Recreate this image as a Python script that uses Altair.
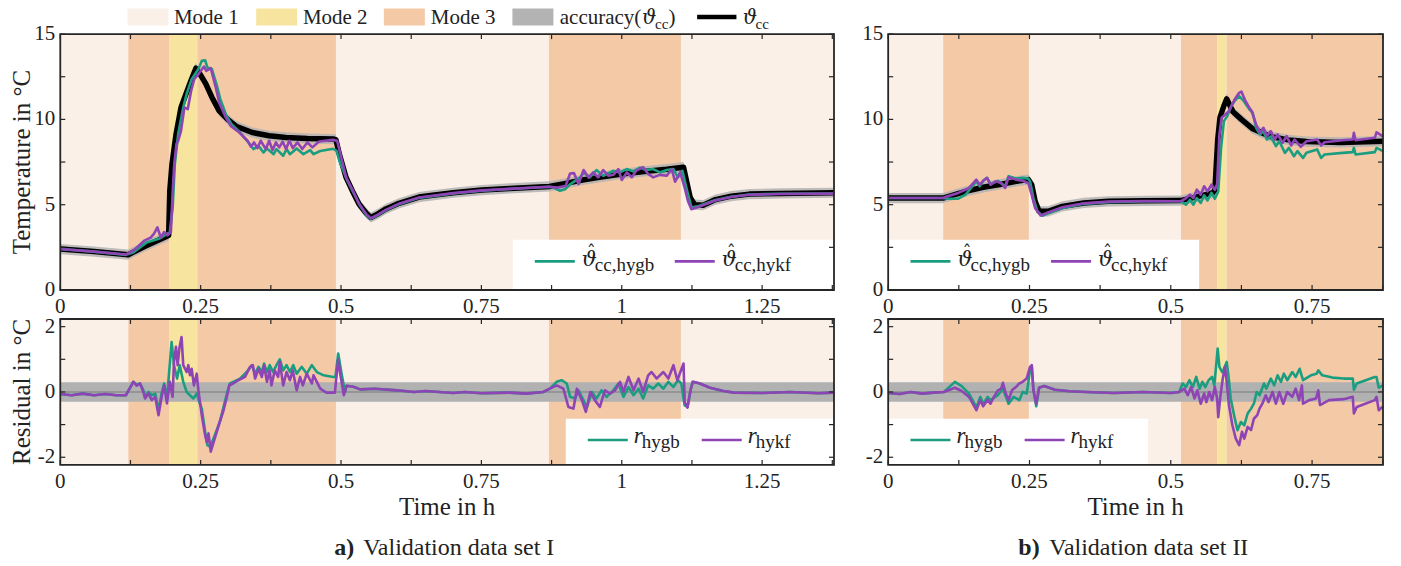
import altair as alt
import pandas as pd

# ---------------- style ----------------
FONT = "Liberation Serif"
MATH = "DejaVu Serif"
INK = "#222222"
FRAME = "#262626"
TEAL = "#1b9e80"
PURPLE = "#8e44b5"
MODE_NAMES = ["Mode 1", "Mode 2", "Mode 3"]
MODE_COLORS = ["#fbf0e8", "#f7e49e", "#f4c9a6"]
ACC_COLOR = "#b3b3b3"
BAND_COLOR = "#b1b1b1"
ZERO_COLOR = "#8c8c8c"

# ---------------- data ----------------
ACCURACY = 0.3

A_MODE_EDGES = [0, 0.1211, 0.1936, 0.244, 0.491, 0.8703, 1.1054, 1.378]
A_MODES = ["Mode 1", "Mode 3", "Mode 2", "Mode 3", "Mode 1", "Mode 3", "Mode 1"]
B_MODE_EDGES = [0, 0.0973, 0.249, 0.518, 0.582, 0.5986, 0.8755]
B_MODES = ["Mode 1", "Mode 3", "Mode 1", "Mode 3", "Mode 2", "Mode 3"]

A_XTICKS = [0, 0.125, 0.25, 0.375, 0.5, 0.625, 0.75, 0.875, 1, 1.125, 1.25, 1.375]
B_XTICKS = [0, 0.125, 0.25, 0.375, 0.5, 0.625, 0.75, 0.875]
A_XLABELS = [0, 0.25, 0.5, 0.75, 1, 1.25]
B_XLABELS = [0, 0.25, 0.5, 0.75]
TOP_YTICKS = [0, 2.5, 5, 7.5, 10, 12.5, 15]
TOP_YLABELS = [0, 5, 10, 15]
BOT_YTICKS = [-2, -1, 0, 1, 2]
BOT_YLABELS = [-2, 0, 2]

# validation data set I : measured temperature (time in h, degC)
A_REF = [(0, 2.4), (0.06, 2.25), (0.121, 2.07), (0.15, 2.55), (0.19, 3.15), (0.193, 3.2),
         (0.195, 5.8), (0.199, 7.4), (0.206, 9.1), (0.215, 10.7), (0.224, 11.5), (0.233, 12.3),
         (0.2415, 13.0), (0.25, 12.6), (0.259, 12.1), (0.27, 11.3), (0.283, 10.5), (0.298, 10.0),
         (0.313, 9.6), (0.342, 9.23), (0.372, 9.04), (0.402, 8.94), (0.44, 8.88), (0.487, 8.85),
         (0.491, 8.8), (0.497, 7.97), (0.509, 6.6), (0.52, 5.82), (0.532, 5.04), (0.545, 4.5),
         (0.553, 4.25), (0.565, 4.45), (0.58, 4.75), (0.603, 5.08), (0.639, 5.45), (0.663, 5.55),
         (0.70, 5.7), (0.751, 5.86), (0.80, 5.95), (0.871, 6.07), (0.90, 6.25), (0.93, 6.45),
         (0.96, 6.6), (1.00, 6.8), (1.04, 6.95), (1.08, 7.08), (1.11, 7.2), (1.116, 6.3),
         (1.122, 5.4), (1.13, 5.0), (1.145, 4.97), (1.167, 5.3), (1.195, 5.5), (1.227, 5.62),
         (1.28, 5.66), (1.378, 5.7)]
A_HYKF = [(0, 2.4), (0.06, 2.25), (0.117, 2.08), (0.13, 2.3), (0.1495, 2.89), (0.161, 3.07),
          (0.167, 3.3), (0.173, 3.67), (0.179, 3.07), (0.185, 3.4), (0.191, 3.2), (0.197, 3.4),
          (0.200, 5.62), (0.203, 7.38), (0.207, 8.56), (0.210, 8.75), (0.215, 9.33), (0.221, 10.7),
          (0.227, 10.6), (0.233, 11.67), (0.2386, 12.36), (0.247, 12.7), (0.256, 13.1), (0.260, 12.85),
          (0.268, 13.0), (0.277, 11.87), (0.283, 10.99), (0.295, 10.1), (0.304, 9.6), (0.319, 9.23),
          (0.3335, 8.75), (0.3395, 8.4), (0.345, 8.65), (0.351, 8.32), (0.357, 8.75), (0.366, 8.26),
          (0.372, 8.75), (0.378, 8.2), (0.384, 8.65), (0.39, 8.36), (0.396, 8.7), (0.402, 8.26),
          (0.408, 8.75), (0.414, 8.32), (0.4225, 8.65), (0.431, 8.26), (0.44, 8.65), (0.449, 8.36),
          (0.461, 8.7), (0.485, 8.8), (0.493, 8.75), (0.4997, 7.87), (0.509, 6.6), (0.52, 5.9),
          (0.532, 5.04), (0.545, 4.45), (0.553, 4.2), (0.565, 4.4), (0.58, 4.7), (0.603, 5.05),
          (0.639, 5.42), (0.663, 5.52), (0.70, 5.68), (0.751, 5.84), (0.80, 5.93), (0.871, 6.05),
          (0.885, 6.0), (0.9, 6.1), (0.908, 6.83), (0.915, 6.85), (0.923, 6.21), (0.932, 7.03),
          (0.941, 6.6), (0.949, 6.89), (0.958, 6.6), (0.967, 7.03), (0.976, 6.7), (0.985, 6.75),
          (0.994, 7.08), (1.0, 6.45), (1.009, 6.89), (1.018, 6.6), (1.026, 7.0), (1.038, 7.2),
          (1.047, 6.8), (1.056, 6.6), (1.068, 6.75), (1.08, 6.7), (1.089, 7.08), (1.095, 6.35),
          (1.104, 6.89), (1.112, 6.0), (1.118, 5.2), (1.124, 4.74), (1.135, 4.85), (1.167, 5.25),
          (1.195, 5.45), (1.227, 5.58), (1.28, 5.63), (1.378, 5.65)]
A_HYGB = [(0, 2.4), (0.06, 2.25), (0.117, 2.06), (0.13, 2.2), (0.154, 2.79), (0.178, 3.04),
          (0.1894, 3.28), (0.195, 3.37), (0.2002, 4.84), (0.204, 7.38), (0.21, 9.14), (0.219, 10.7),
          (0.225, 11.48), (0.234, 12.36), (0.246, 12.95), (0.252, 13.43), (0.258, 13.47), (0.262, 13.04),
          (0.27, 12.95), (0.279, 11.97), (0.285, 11.19), (0.296, 10.2), (0.305, 9.72), (0.32, 9.23),
          (0.335, 8.65), (0.344, 8.26), (0.353, 8.45), (0.362, 8.06), (0.368, 8.3), (0.38, 7.96),
          (0.385, 8.26), (0.397, 7.87), (0.403, 8.26), (0.409, 7.96), (0.421, 8.3), (0.433, 7.96),
          (0.445, 8.2), (0.451, 7.96), (0.463, 8.15), (0.486, 8.28), (0.492, 8.15), (0.498, 7.48),
          (0.51, 6.5), (0.522, 5.72), (0.534, 4.95), (0.545, 4.4), (0.553, 4.18), (0.565, 4.38),
          (0.58, 4.68), (0.603, 5.03), (0.639, 5.4), (0.663, 5.5), (0.70, 5.66), (0.751, 5.82),
          (0.80, 5.92), (0.871, 6.05), (0.878, 6.01), (0.89, 5.82), (0.899, 5.9), (0.908, 6.2),
          (0.917, 6.4), (0.926, 6.6), (0.932, 6.89), (0.943, 6.6), (0.955, 7.03), (0.967, 6.69),
          (0.985, 6.99), (0.997, 6.89), (1.009, 7.09), (1.021, 6.95), (1.032, 7.18), (1.044, 7.03),
          (1.056, 7.09), (1.068, 6.89), (1.08, 7.03), (1.092, 7.09), (1.1, 6.6), (1.108, 6.99),
          (1.115, 6.01), (1.124, 4.84), (1.135, 4.9), (1.167, 5.27), (1.195, 5.47), (1.227, 5.6),
          (1.28, 5.64), (1.378, 5.66)]
A_R_HYKF = [(0, -0.06), (0.02, -0.1), (0.04, -0.05), (0.06, -0.1), (0.08, -0.06), (0.1, -0.1),
            (0.117, -0.1), (0.13, 0.31), (0.136, 0.19), (0.142, 0.26), (0.148, 0.0), (0.151, -0.2),
            (0.157, -0.05), (0.163, -0.25), (0.169, -0.15), (0.175, -0.71), (0.181, -0.1), (0.185, 0.2),
            (0.19, -0.35), (0.195, 0.31), (0.2, -0.15), (0.2025, 0.92), (0.206, 1.38), (0.209, 0.82),
            (0.212, 1.33), (0.216, 1.68), (0.219, 0.82), (0.225, 0.61), (0.228, 0.82), (0.231, 0.51),
            (0.234, 0.71), (0.238, 0.2), (0.243, 0.56), (0.246, 0.05), (0.252, -0.71), (0.258, -1.33),
            (0.261, -1.53), (0.264, -1.27), (0.268, -1.83), (0.275, -1.43), (0.284, -0.92), (0.29, -0.61),
            (0.296, -0.2), (0.301, 0.2), (0.308, 0.26), (0.317, 0.36), (0.329, 0.46), (0.338, 0.77),
            (0.343, 0.82), (0.347, 0.41), (0.353, 0.71), (0.359, 0.46), (0.363, 0.82), (0.368, 0.31),
            (0.373, 0.66), (0.376, 0.2), (0.382, 0.66), (0.388, 0.46), (0.391, 0.92), (0.397, 0.2),
            (0.403, 0.61), (0.409, 0.36), (0.414, 0.66), (0.421, 0.05), (0.427, 0.46), (0.432, 0.2),
            (0.439, 0.56), (0.448, 0.26), (0.451, 0.51), (0.463, 0.1), (0.474, -0.02), (0.489, -0.02),
            (0.495, 1.0), (0.499, 0.5), (0.505, -0.1), (0.51, 0.19), (0.522, 0.16), (0.534, 0.08),
            (0.56, 0.1), (0.6, 0.05), (0.63, 0.0), (0.65, 0.03), (0.7, -0.03), (0.72, 0.0),
            (0.75, -0.04), (0.8, -0.02), (0.83, -0.05), (0.86, 0.0), (0.872, 0.1), (0.884, 0.2),
            (0.896, 0.1), (0.905, -0.46), (0.914, -0.51), (0.92, 0.1), (0.929, -0.25), (0.936, -0.61),
            (0.944, 0.0), (0.952, -0.25), (0.961, -0.46), (0.97, 0.05), (0.979, -0.05), (0.988, 0.05),
            (0.997, 0.31), (1.003, 0.0), (1.012, 0.46), (1.021, 0.05), (1.03, 0.41), (1.038, 0.0),
            (1.047, 0.51), (1.053, 0.61), (1.062, 0.41), (1.074, 0.61), (1.083, 0.41), (1.092, 0.82),
            (1.099, 0.36), (1.11, 0.87), (1.112, -0.3), (1.117, -0.48), (1.123, 0.1), (1.127, 0.31),
            (1.139, 0.26), (1.157, 0.13), (1.181, 0.03), (1.2, -0.02), (1.25, -0.03), (1.3, 0.0),
            (1.35, -0.04), (1.378, -0.02)]
A_R_HYGB = [(0, -0.06), (0.02, -0.1), (0.04, -0.05), (0.06, -0.1), (0.08, -0.06), (0.1, -0.1),
            (0.117, -0.1), (0.13, 0.31), (0.136, 0.22), (0.142, 0.26), (0.148, 0.05), (0.151, -0.15),
            (0.157, 0.0), (0.163, -0.1), (0.169, -0.05), (0.175, -0.55), (0.181, 0.0), (0.185, 0.26),
            (0.19, -0.2), (0.1983, 1.53), (0.2025, 0.82), (0.208, 0.41), (0.2127, 0.82), (0.219, 0.31),
            (0.225, 0.0), (0.231, -0.1), (0.237, -0.2), (0.243, -0.05), (0.248, -0.33), (0.252, -0.51),
            (0.258, -1.22), (0.262, -1.63), (0.267, -1.68), (0.275, -1.33), (0.284, -0.92), (0.296, -0.1),
            (0.302, 0.26), (0.308, 0.31), (0.32, 0.41), (0.332, 0.61), (0.341, 0.82), (0.347, 0.56),
            (0.353, 0.77), (0.359, 0.61), (0.363, 0.87), (0.368, 0.61), (0.373, 0.82), (0.379, 0.61),
            (0.385, 0.82), (0.391, 1.0), (0.397, 0.66), (0.403, 0.82), (0.409, 0.61), (0.415, 0.82),
            (0.421, 0.56), (0.43, 0.77), (0.439, 0.56), (0.448, 0.82), (0.457, 0.61), (0.469, 0.51),
            (0.486, 0.46), (0.49, 0.46), (0.495, 1.18), (0.501, 0.56), (0.507, 0.0), (0.51, 0.19),
            (0.522, 0.16), (0.534, 0.08), (0.56, 0.1), (0.6, 0.05), (0.63, 0.0), (0.65, 0.03),
            (0.7, -0.03), (0.72, 0.0), (0.75, -0.04), (0.8, -0.02), (0.83, -0.05), (0.86, 0.0),
            (0.872, 0.1), (0.884, 0.31), (0.893, 0.36), (0.902, 0.26), (0.908, -0.15), (0.917, -0.2),
            (0.923, 0.05), (0.932, -0.26), (0.938, -0.46), (0.947, 0.0), (0.955, -0.2), (0.964, 0.05),
            (0.973, -0.15), (0.985, 0.05), (0.994, 0.26), (1.003, -0.15), (1.012, 0.15), (1.021, -0.1),
            (1.03, 0.1), (1.038, -0.2), (1.047, 0.2), (1.056, 0.1), (1.065, 0.26), (1.074, 0.1),
            (1.083, 0.31), (1.092, 0.15), (1.1, 0.36), (1.106, 0.26), (1.112, -0.41), (1.117, -0.46),
            (1.122, 0.0), (1.126, 0.31), (1.139, 0.26), (1.157, 0.13), (1.181, 0.03), (1.2, -0.02),
            (1.25, -0.03), (1.3, 0.0), (1.35, -0.04), (1.378, -0.02)]

# validation data set II
B_REF = [(0, 5.39), (0.097, 5.39), (0.137, 5.78), (0.168, 6.02), (0.2, 6.2), (0.232, 6.4),
         (0.248, 6.47), (0.254, 6.17), (0.26, 5.2), (0.267, 4.61), (0.283, 4.61), (0.308, 4.9),
         (0.346, 5.1), (0.39, 5.2), (0.454, 5.23), (0.517, 5.24), (0.549, 5.49), (0.574, 5.69),
         (0.578, 5.85), (0.583, 8.8), (0.587, 10.1), (0.594, 10.8), (0.599, 11.2), (0.61, 10.45),
         (0.625, 10.0), (0.645, 9.45), (0.676, 9.0), (0.708, 8.8), (0.74, 8.7), (0.8, 8.65),
         (0.8755, 8.72)]
B_HYKF = [(0, 5.39), (0.097, 5.39), (0.105, 5.49), (0.124, 5.69), (0.143, 5.98), (0.156, 6.47),
          (0.162, 6.17), (0.168, 6.4), (0.175, 6.57), (0.181, 6.17), (0.19, 6.37), (0.2, 6.27),
          (0.207, 5.98), (0.213, 6.61), (0.226, 6.47), (0.238, 6.4), (0.248, 6.26), (0.254, 5.57),
          (0.26, 4.8), (0.27, 4.37), (0.283, 4.55), (0.308, 4.85), (0.346, 5.08), (0.39, 5.18),
          (0.454, 5.22), (0.5175, 5.2), (0.527, 5.39), (0.534, 5.59), (0.54, 5.39), (0.546, 5.88),
          (0.553, 5.59), (0.559, 6.08), (0.565, 5.78), (0.572, 6.17), (0.578, 5.88), (0.582, 6.2),
          (0.586, 9.1), (0.59, 10.1), (0.597, 10.3), (0.603, 10.49), (0.613, 11.17), (0.621, 11.56),
          (0.625, 11.63), (0.632, 11.08), (0.639, 10.69), (0.643, 10.49), (0.651, 9.7), (0.658, 9.22),
          (0.664, 9.51), (0.67, 9.02), (0.677, 9.31), (0.684, 8.82), (0.689, 9.12), (0.698, 8.63),
          (0.705, 9.02), (0.713, 8.47), (0.719, 8.82), (0.73, 8.39), (0.74, 8.72), (0.759, 8.82),
          (0.766, 8.47), (0.772, 8.66), (0.804, 8.78), (0.822, 8.82), (0.824, 9.22), (0.827, 8.78),
          (0.861, 8.92), (0.864, 9.24), (0.8755, 9.0)]
B_HYGB = [(0, 5.39), (0.097, 5.39), (0.105, 5.35), (0.124, 5.35), (0.137, 5.59), (0.149, 6.08),
          (0.156, 6.37), (0.162, 6.08), (0.168, 6.4), (0.175, 6.57), (0.181, 6.2), (0.194, 6.4),
          (0.207, 6.08), (0.213, 6.67), (0.226, 6.53), (0.238, 6.57), (0.248, 6.53), (0.251, 6.37),
          (0.257, 5.39), (0.264, 4.6), (0.273, 4.35), (0.283, 4.5), (0.308, 4.8), (0.346, 5.05),
          (0.39, 5.15), (0.454, 5.2), (0.5175, 5.2), (0.527, 5.0), (0.534, 5.29), (0.54, 5.0),
          (0.546, 5.39), (0.553, 5.1), (0.559, 5.55), (0.565, 5.25), (0.572, 5.69), (0.578, 5.35),
          (0.584, 5.78), (0.589, 8.33), (0.594, 9.9), (0.6, 10.2), (0.607, 10.78), (0.613, 11.08),
          (0.621, 11.37), (0.629, 11.08), (0.639, 10.59), (0.645, 10.39), (0.651, 9.51), (0.658, 9.12),
          (0.664, 9.31), (0.67, 8.82), (0.677, 9.0), (0.686, 8.43), (0.692, 8.72), (0.702, 8.04),
          (0.709, 8.33), (0.718, 7.84), (0.724, 8.14), (0.734, 7.74), (0.74, 8.04), (0.759, 8.24),
          (0.766, 7.74), (0.772, 7.94), (0.804, 8.04), (0.822, 8.08), (0.824, 8.33), (0.827, 7.94),
          (0.861, 8.08), (0.864, 8.33), (0.8755, 8.14)]
B_R_HYKF = [(0, -0.03), (0.02, -0.06), (0.04, 0.0), (0.06, -0.05), (0.08, -0.02), (0.0985, 0.0),
            (0.118, 0.13), (0.13, 0.03), (0.143, -0.15), (0.156, -0.56), (0.163, -0.25), (0.168, -0.44),
            (0.176, -0.24), (0.181, -0.36), (0.187, -0.15), (0.194, 0.05), (0.2, 0.1), (0.203, 0.28),
            (0.208, -0.05), (0.213, -0.25), (0.219, 0.05), (0.226, 0.15), (0.232, 0.26), (0.238, 0.31),
            (0.245, 0.41), (0.251, 0.77), (0.254, 0.82), (0.257, 0.05), (0.262, -0.36), (0.267, 0.13),
            (0.276, 0.18), (0.295, 0.07), (0.321, 0.02), (0.35, 0.0), (0.4, -0.03), (0.45, 0.0),
            (0.5, -0.03), (0.515, 0.0), (0.524, 0.1), (0.53, -0.1), (0.536, 0.15), (0.542, -0.2),
            (0.547, 0.05), (0.553, -0.36), (0.559, -0.05), (0.563, -0.31), (0.568, 0.0), (0.573, -0.25),
            (0.578, 0.15), (0.582, -0.2), (0.584, -0.77), (0.588, -0.1), (0.592, 0.41), (0.596, 0.77),
            (0.599, 0.31), (0.603, -0.41), (0.609, -1.02), (0.615, -1.43), (0.621, -1.63), (0.626, -1.22),
            (0.63, -1.43), (0.636, -1.07), (0.642, -1.17), (0.647, -0.82), (0.653, -0.71), (0.657, -0.51),
            (0.662, -0.36), (0.668, -0.1), (0.673, -0.31), (0.68, 0.0), (0.686, -0.36), (0.692, 0.0),
            (0.699, -0.36), (0.706, 0.0), (0.715, -0.15), (0.721, 0.1), (0.727, -0.25), (0.732, 0.2),
            (0.734, -0.36), (0.745, -0.25), (0.757, -0.2), (0.761, 0.05), (0.764, -0.4), (0.78, -0.25),
            (0.806, -0.22), (0.822, -0.15), (0.824, -0.66), (0.829, -0.46), (0.861, -0.25), (0.864, -0.15),
            (0.868, -0.56), (0.8755, -0.44)]
B_R_HYGB = [(0, -0.03), (0.02, -0.06), (0.04, 0.0), (0.06, -0.05), (0.08, -0.02), (0.0985, 0.0),
            (0.118, 0.31), (0.13, 0.18), (0.143, -0.05), (0.156, -0.46), (0.163, -0.15), (0.168, -0.36),
            (0.176, -0.15), (0.181, -0.25), (0.194, -0.1), (0.203, 0.1), (0.213, -0.36), (0.222, -0.15),
            (0.232, -0.25), (0.238, 0.0), (0.245, -0.05), (0.251, 0.66), (0.254, 0.8), (0.257, 0.05),
            (0.262, -0.44), (0.267, 0.13), (0.276, 0.18), (0.295, 0.07), (0.321, 0.02), (0.35, 0.0),
            (0.4, -0.03), (0.45, 0.0), (0.5, -0.03), (0.515, 0.0), (0.521, 0.26), (0.527, 0.15),
            (0.533, 0.36), (0.539, 0.15), (0.545, 0.46), (0.551, 0.1), (0.556, 0.31), (0.561, 0.15),
            (0.567, 0.36), (0.573, 0.46), (0.577, 0.2), (0.583, 1.33), (0.586, 0.77), (0.591, 0.61),
            (0.594, 0.71), (0.599, 0.92), (0.602, 0.51), (0.606, -0.2), (0.612, -0.71), (0.618, -1.17),
            (0.624, -0.92), (0.63, -1.02), (0.636, -0.66), (0.642, -0.51), (0.647, -0.36), (0.652, 0.0),
            (0.657, -0.1), (0.665, 0.26), (0.669, 0.1), (0.677, 0.41), (0.683, 0.2), (0.689, 0.51),
            (0.695, 0.31), (0.7, 0.56), (0.706, 0.36), (0.715, 0.61), (0.721, 0.46), (0.728, 0.71),
            (0.734, 0.36), (0.748, 0.51), (0.758, 0.56), (0.761, 0.66), (0.768, 0.51), (0.786, 0.44),
            (0.806, 0.41), (0.822, 0.41), (0.824, 0.07), (0.829, 0.26), (0.861, 0.46), (0.864, 0.46),
            (0.868, 0.13), (0.8755, 0.2)]

# ---------------- layout (one view; panels placed through scale ranges) ----------------
W_A, W_B = 774, 495
XB0 = 828.2                       # left edge of panel b
H_TOP, GAP, H_BOT = 256, 29, 146
YB0 = H_TOP + GAP                 # top edge of bottom row
H_ALL = YB0 + H_BOT
W_ALL = XB0 + W_B
XMAX_A, XMAX_B = 1.378, 0.8755
Y_TOP = [0, 15]
Y_BOT = [-2.235, 2.235]
TICK = 5
ONE = pd.DataFrame({"k": [0]})

SX = {"a": alt.Scale(domain=[0, XMAX_A], range=[0, W_A], nice=False, zero=False),
      "b": alt.Scale(domain=[0, XMAX_B], range=[XB0, XB0 + W_B], nice=False, zero=False)}
SY = {"top": alt.Scale(domain=Y_TOP, range=[H_TOP, 0], nice=False, zero=False),
      "bot": alt.Scale(domain=Y_BOT, range=[H_ALL, YB0], nice=False, zero=False)}
X0 = {"a": 0, "b": XB0}
XW = {"a": W_A, "b": W_B}
Y0 = {"top": 0, "bot": YB0}
YH = {"top": H_TOP, "bot": H_BOT}


def pdf(pairs):
    return pd.DataFrame(pairs, columns=["t", "v"])


def text(s, x, y, size=21, font=FONT, style="normal", weight="normal", baseline="alphabetic",
         align="left", angle=0):
    return alt.Chart(ONE).mark_text(text=s, align=align, baseline=baseline, font=font,
                                    fontSize=size, fontStyle=style, fontWeight=weight, angle=angle,
                                    color=INK).encode(x=alt.value(x), y=alt.value(y))


def hline(x1, x2, y, color, width):
    return alt.Chart(ONE).mark_rule(color=color, strokeWidth=width).encode(
        x=alt.value(x1), x2=alt.value(x2), y=alt.value(y))


def box(x1, x2, y1, y2, fill):
    return alt.Chart(ONE).mark_rect(color=fill).encode(
        x=alt.value(x1), x2=alt.value(x2), y=alt.value(y1), y2=alt.value(y2))


def modes(col, row, edges, names):
    df = pd.DataFrame({"t0": edges[:-1], "t1": edges[1:], "mode": names})
    return alt.Chart(df).mark_rect().encode(
        x=alt.X("t0:Q", scale=SX[col], axis=None), x2="t1:Q",
        y=alt.value(Y0[row]), y2=alt.value(Y0[row] + YH[row]),
        color=alt.Color("mode:N", scale=alt.Scale(domain=MODE_NAMES, range=MODE_COLORS), legend=None))


def line(col, row, pairs, color, width):
    return alt.Chart(pdf(pairs)).mark_line(color=color, strokeWidth=width, strokeJoin="round").encode(
        x=alt.X("t:Q", scale=SX[col], axis=None),
        y=alt.Y("v:Q", scale=SY[row], axis=None),
        order="t:Q")


def frame_ticks_labels(col, row, xticks, xlabels, yticks, ylabels):
    x0, w, y0, h = X0[col], XW[col], Y0[row], YH[row]
    xdf = pd.DataFrame({"tick": xticks})
    ydf = pd.DataFrame({"tick": yticks})
    xe = alt.X("tick:Q", scale=SX[col], axis=None)
    ye = alt.Y("tick:Q", scale=SY[row], axis=None)
    xb = alt.Chart(xdf).mark_rule(color=FRAME, strokeWidth=1.2)
    yb = alt.Chart(ydf).mark_rule(color=FRAME, strokeWidth=1.2)
    xl = pd.DataFrame({"tick": xlabels, "label": [f"{v:g}" for v in xlabels]})
    yl = pd.DataFrame({"tick": ylabels, "label": [f"{v:g}" for v in ylabels]})
    return [
        xb.encode(x=xe, y=alt.value(y0), y2=alt.value(y0 + TICK)),
        xb.encode(x=xe, y=alt.value(y0 + h - TICK), y2=alt.value(y0 + h)),
        yb.encode(y=ye, x=alt.value(x0), x2=alt.value(x0 + TICK)),
        yb.encode(y=ye, x=alt.value(x0 + w - TICK), x2=alt.value(x0 + w)),
        alt.Chart(ONE).mark_rect(fillOpacity=0, stroke=FRAME, strokeWidth=1.8).encode(
            x=alt.value(x0), x2=alt.value(x0 + w), y=alt.value(y0), y2=alt.value(y0 + h)),
        alt.Chart(xl).mark_text(align="center", baseline="alphabetic", font=FONT, fontSize=21,
                                color=INK).encode(
            x=alt.X("tick:Q", scale=SX[col], axis=None), y=alt.value(y0 + h + 23), text="label:N"),
        alt.Chart(yl).mark_text(align="right", baseline="middle", font=FONT, fontSize=21,
                                color=INK).encode(
            y=alt.Y("tick:Q", scale=SY[row], axis=None), x=alt.value(x0 - 5), text="label:N"),
    ]


def est_entry(x0, y, color, sub):
    return [hline(x0, x0 + 40, y, color, 2.6),
            text("\u03d1", x0 + 47, y + 5, size=21, font=MATH, style="italic"),
            text("\u02c6", x0 + 52, y - 2, size=18, font=MATH),
            text(sub, x0 + 60, y + 10, size=19)]


def res_entry(x0, y, color, sub):
    return [hline(x0, x0 + 40, y, color, 2.6),
            text("r", x0 + 46, y + 3, size=23, style="italic"),
            text(sub, x0 + 54, y + 8, size=19)]


layers = []
# backgrounds
layers += [modes("a", "top", A_MODE_EDGES, A_MODES), modes("a", "bot", A_MODE_EDGES, A_MODES),
           modes("b", "top", B_MODE_EDGES, B_MODES), modes("b", "bot", B_MODE_EDGES, B_MODES)]
# accuracy band around the measurement + residual band
for col, ref in (("a", A_REF), ("b", B_REF)):
    layers.append(alt.Chart(pdf(ref)).transform_calculate(
        lo=f"datum.v - {ACCURACY}", hi=f"datum.v + {ACCURACY}"
    ).mark_area(color=ACC_COLOR, opacity=0.85).encode(
        x=alt.X("t:Q", scale=SX[col], axis=None),
        y=alt.Y("lo:Q", scale=SY["top"], axis=None), y2="hi:Q"))
    band_df = pd.DataFrame({"lo": [-ACCURACY], "hi": [ACCURACY], "zero": [0.0]})
    layers.append(alt.Chart(band_df).mark_rect(color=BAND_COLOR).encode(
        x=alt.value(X0[col]), x2=alt.value(X0[col] + XW[col]),
        y=alt.Y("lo:Q", scale=SY["bot"], axis=None), y2="hi:Q"))
    layers.append(alt.Chart(band_df).mark_rule(color=ZERO_COLOR, strokeWidth=1.6).encode(
        x=alt.value(X0[col]), x2=alt.value(X0[col] + XW[col]),
        y=alt.Y("zero:Q", scale=SY["bot"], axis=None)))

# series
layers += [line("a", "top", A_REF, "#000000", 5.5), line("a", "top", A_HYGB, TEAL, 2.6),
           line("a", "top", A_HYKF, PURPLE, 2.6),
           line("b", "top", B_REF, "#000000", 5.5), line("b", "top", B_HYGB, TEAL, 2.6),
           line("b", "top", B_HYKF, PURPLE, 2.6),
           line("a", "bot", A_R_HYGB, TEAL, 2.6), line("a", "bot", A_R_HYKF, PURPLE, 2.6),
           line("b", "bot", B_R_HYGB, TEAL, 2.6), line("b", "bot", B_R_HYKF, PURPLE, 2.6)]

# in-panel legends
layers += [box(452.7, W_A, 205.7, H_TOP, "#ffffff"),
           box(XB0, 1139.3, 205.7, H_TOP, "#ffffff"),
           box(505.7, W_A, YB0 + 99.7, H_ALL, "#ffffff"),
           box(XB0, 1088.2, YB0 + 99.7, H_ALL, "#ffffff")]
layers += est_entry(474.7, 227.4, TEAL, "cc,hygb") + est_entry(614.7, 227.4, PURPLE, "cc,hykf")
layers += est_entry(850.5, 227.4, TEAL, "cc,hygb") + est_entry(991.1, 227.4, PURPLE, "cc,hykf")
layers += res_entry(527.7, YB0 + 121, TEAL, "hygb") + res_entry(641.7, YB0 + 121, PURPLE, "hykf")
layers += res_entry(850.5, YB0 + 121, TEAL, "hygb") + res_entry(964.7, YB0 + 121, PURPLE, "hykf")

# frames, ticks, tick labels
layers += frame_ticks_labels("a", "top", A_XTICKS, A_XLABELS, TOP_YTICKS, TOP_YLABELS)
layers += frame_ticks_labels("b", "top", B_XTICKS, B_XLABELS, TOP_YTICKS, TOP_YLABELS)
layers += frame_ticks_labels("a", "bot", A_XTICKS, A_XLABELS, BOT_YTICKS, BOT_YLABELS)
layers += frame_ticks_labels("b", "bot", B_XTICKS, B_XLABELS, BOT_YTICKS, BOT_YLABELS)

# axis titles and captions
layers += [text("Temperature in \u00b0C", -38.5, H_TOP / 2, size=25, align="center", baseline="middle",
                angle=270),
           text("Residual in \u00b0C", -38.5, YB0 + H_BOT / 2, size=25, align="center",
                baseline="middle", angle=270),
           text("Time in h", W_A / 2, H_ALL + 50.5, size=25, align="center"),
           text("Time in h", XB0 + W_B / 2, H_ALL + 50.5, size=25, align="center"),
           text("a)", 274, H_ALL + 90.5, size=24, weight="bold"),
           text("Validation data set I", 303, H_ALL + 90.5, size=24),
           text("b)", 958.4, H_ALL + 90.5, size=24, weight="bold"),
           text("Validation data set II", 989.3, H_ALL + 90.5, size=24)]

# top legend
LG_Y0, LG_Y1, LG_BASE = -25.5, -8.5, -10.0
layers += [
    box(67.3, 108.2, LG_Y0, LG_Y1, MODE_COLORS[0]), text("Mode 1", 113.7, LG_BASE),
    box(196.0, 237.0, LG_Y0, LG_Y1, MODE_COLORS[1]), text("Mode 2", 242.7, LG_BASE),
    box(323.7, 364.7, LG_Y0, LG_Y1, MODE_COLORS[2]), text("Mode 3", 370.7, LG_BASE),
    box(452.3, 493.3, LG_Y0, LG_Y1, ACC_COLOR), text("accuracy(", 499.7, LG_BASE),
    text("\u03d1", 582.0, LG_BASE, size=20, font=MATH, style="italic"),
    text("cc", 595.0, LG_BASE + 4.5, size=15), text(")", 608.5, LG_BASE),
    hline(637.1, 676.4, -17.0, "#000000", 4.5),
    text("\u03d1", 682.7, LG_BASE, size=20, font=MATH, style="italic"),
    text("cc", 695.5, LG_BASE + 4.5, size=15),
]

chart = alt.layer(*layers).resolve_scale(x="independent", y="independent").properties(
    width=W_ALL, height=H_ALL,
    autosize=alt.AutoSizeParams(type="none"),
    padding={"left": 52.3, "top": 26, "right": 10, "bottom": 110},
).configure_view(strokeWidth=0)

chart.save("out.html", embed_options={"renderer": "svg", "actions": False})
